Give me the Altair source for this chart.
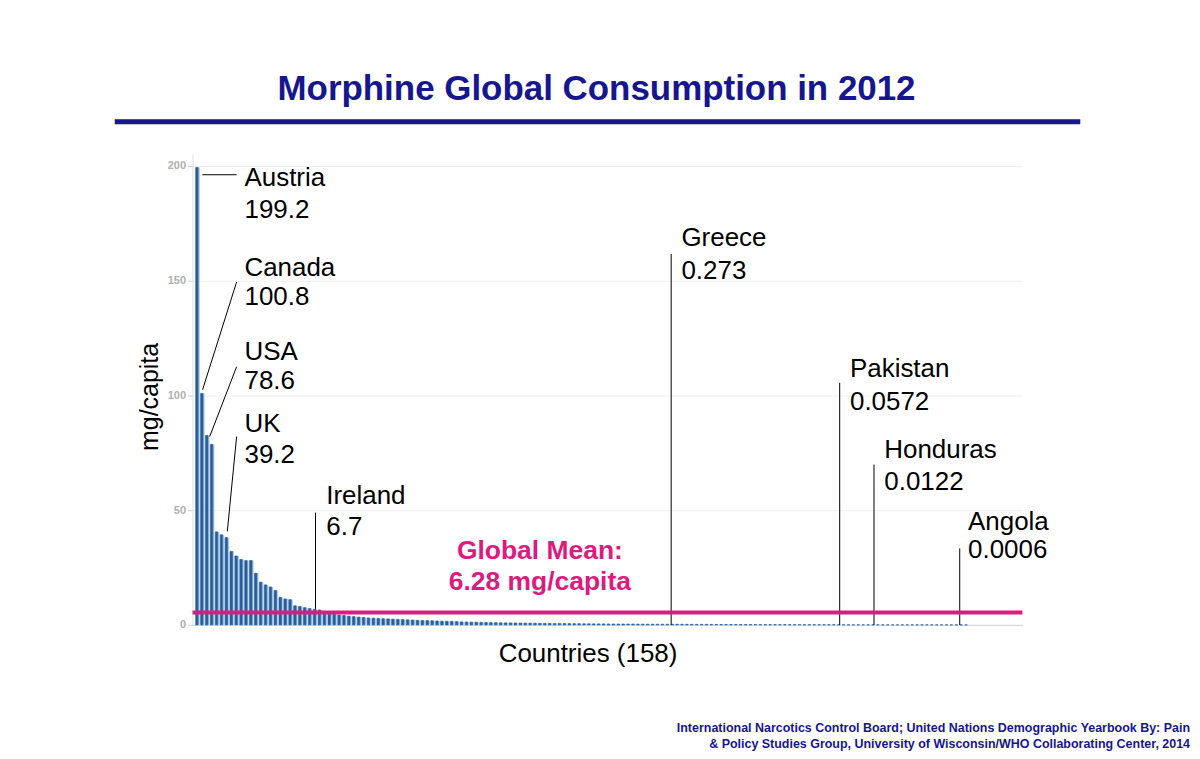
import altair as alt
import pandas as pd

# ---- data -------------------------------------------------------------
consumption = [
    199.2, 100.8, 82.5, 78.6, 40.5, 39.2, 38.0, 32.0, 30.0, 28.5,
    28.0, 28.0, 22.5, 18.6, 17.4, 16.5, 15.0, 12.0, 11.3, 11.0,
    8.3, 8.0, 7.5, 7.1, 6.7, 6.5, 5.3, 4.9, 4.6, 4.3,
    4.1, 3.8, 3.6, 3.4, 3.2, 3.0, 2.9, 2.8, 2.7, 2.6,
    2.5, 2.4, 2.3, 2.2, 2.1, 2.0, 1.9, 1.85, 1.8, 1.7,
    1.6, 1.55, 1.5, 1.4, 1.3, 1.25, 1.2, 1.15, 1.1, 1.05,
    1.0, 0.95, 0.9, 0.88, 0.85, 0.82, 0.8, 0.77, 0.74, 0.71,
    0.68, 0.65, 0.62, 0.6, 0.58, 0.56, 0.54, 0.52, 0.5, 0.48,
    0.46, 0.44, 0.42, 0.41, 0.4, 0.38, 0.37, 0.36, 0.35, 0.34,
    0.32, 0.31, 0.3, 0.29, 0.285, 0.28, 0.273, 0.265, 0.255, 0.245,
    0.24, 0.23, 0.22, 0.21, 0.2, 0.19, 0.18, 0.175, 0.17, 0.16,
    0.15, 0.145, 0.14, 0.13, 0.125, 0.12, 0.11, 0.105, 0.1, 0.095,
    0.09, 0.085, 0.08, 0.078, 0.075, 0.07, 0.067, 0.064, 0.061, 0.059,
    0.0572, 0.05, 0.042, 0.035, 0.028, 0.022, 0.017, 0.0122, 0.011, 0.0098,
    0.0088, 0.0079, 0.007, 0.0062, 0.0055, 0.0048, 0.0042, 0.0037, 0.0032, 0.0028,
    0.0024, 0.002, 0.0017, 0.0014, 0.0011, 0.0006, 0.0004, 0.0002,
]
rank = list(range(1, len(consumption) + 1))

global_mean_label = ["Global Mean:", "6.28 mg/capita"]
global_mean_drawn = 5.4  # height at which the reference draws the mean line

ann_names = ["Austria", "Canada", "USA", "UK", "Ireland", "Greece", "Pakistan", "Honduras", "Angola"]
ann_values = ["199.2", "100.8", "78.6", "39.2", "6.7", "0.273", "0.0572", "0.0122", "0.0006"]
# leader-line ends (rank units, mg/capita)
lead_x1 = [1.4, 1.45, 2.9, 6.5, 24.5, 97.1, 131.5, 138.5, 156.0]
lead_y1 = [196, 102.4, 82.0, 40.7, 6.7, 0, 0, 0, 0]
lead_x2 = [8.4, 8.4, 8.4, 8.4, 24.5, 97.1, 131.5, 138.5, 156.0]
lead_y2 = [196, 149.3, 112.4, 82.0, 48.9, 161.5, 105.4, 69.8, 33.3]
# label anchors
lab_x = [10.0, 10.0, 10.0, 10.0, 26.7, 99.2, 133.6, 140.6, 157.7]
lab_name_y = [194.6, 155.4, 118.9, 87.6, 55.9, 168.5, 111.5, 76.3, 45.0]
lab_value_y = [180.7, 142.8, 106.3, 74.1, 42.4, 154.1, 97.2, 62.0, 32.4]

mean_label_x = 70.3
mean_label_y = [32.0, 18.5]

title_text = "Morphine Global Consumption in 2012"
source_line1 = "International Narcotics Control Board; United Nations Demographic Yearbook By: Pain"
source_line2 = "& Policy Studies Group, University of Wisconsin/WHO Collaborating Center,  2014"

# ---- tables -----------------------------------------------------------
bars = pd.DataFrame({"i": rank, "v": consumption})
leads = pd.DataFrame({"x1": lead_x1, "y1": lead_y1, "x2": lead_x2, "y2": lead_y2})
labels = pd.DataFrame({
    "x": lab_x + lab_x,
    "y": lab_name_y + lab_value_y,
    "t": ann_names + ann_values,
})
mean_df = pd.DataFrame({"m": [global_mean_drawn]})
mean_lab = pd.DataFrame({"x": [mean_label_x] * 2, "y": mean_label_y, "t": global_mean_label})

FONT = "Liberation Sans"
NAVY = "#16168f"
PINK = "#de1a80"

xscale = alt.Scale(domain=[-0.6, 168.8], nice=False, zero=False)
yscale = alt.Scale(domain=[0, 205], nice=False)

xaxis = alt.Axis(labels=False, ticks=False, grid=False, domainColor="#d4d4d4",
                 title="Countries (158)", titleFontSize=26, titleFontWeight="normal",
                 titleFont=FONT, titleColor="#000000", titlePadding=16, titleX=396)
yaxis = alt.Axis(values=[0, 50, 100, 150, 200], labelFontSize=11, labelFontWeight="bold",
                 labelColor="#b0b0b0", labelFont=FONT, tickColor="#cfcfcf", tickSize=5,
                 domainColor="#e2e2e2", gridColor="#efefef",
                 title="mg/capita", titleFontSize=25, titleFontWeight="normal", titleFont=FONT,
                 titleColor="#000000", titleX=-43, titleY=243, titleAngle=270,
                 titleAlign="center", titleBaseline="middle")

light = alt.Chart(bars).transform_calculate(a="datum.i - 0.45", b="datum.i - 0.12").mark_rect(
    color="#b8cde5"
).encode(
    x=alt.X("a:Q", scale=xscale, axis=xaxis),
    x2="b:Q",
    y=alt.Y("v:Q", scale=yscale, axis=yaxis),
    y2=alt.datum(0),
)

dark = alt.Chart(bars).transform_calculate(a="datum.i - 0.95", b="datum.i - 0.45").mark_rect(
    color="#27609e", stroke="#27609e", strokeWidth=0.7
).encode(
    x="a:Q",
    x2="b:Q",
    y="v:Q",
    y2=alt.datum(0),
)

mean_rule = alt.Chart(mean_df).mark_rule(color=PINK, strokeWidth=4).encode(y="m:Q")

lead_rules = alt.Chart(leads).mark_rule(color="#000000", strokeWidth=1).encode(
    x="x1:Q", y="y1:Q", x2="x2:Q", y2="y2:Q"
)

lab_text = alt.Chart(labels).mark_text(
    align="left", baseline="middle", fontSize=26, font=FONT, color="#000000"
).encode(x="x:Q", y="y:Q", text="t:N")

mean_text = alt.Chart(mean_lab).mark_text(
    align="center", baseline="middle", fontSize=26.5, font=FONT, fontWeight="bold", color=PINK
).encode(x="x:Q", y="y:Q", text="t:N")

title_df = pd.DataFrame({"t": [title_text]})
title_mark = alt.Chart(title_df).mark_text(
    align="center", baseline="middle", fontSize=35, font=FONT, fontWeight="bold", color=NAVY
).encode(x=alt.value(405), y=alt.value(-65), text="t:N")

title_rule = alt.Chart(title_df).mark_rule(color=NAVY, strokeWidth=5).encode(
    x=alt.value(-78), x2=alt.value(890), y=alt.value(-32.5)
)

src1 = alt.Chart(pd.DataFrame({"t": [source_line1]})).mark_text(
    align="right", baseline="middle", fontSize=12.5, fontWeight="bold", font=FONT, color=NAVY
).encode(x=alt.value(1000), y=alt.value(575.5), text="t:N")
src2 = alt.Chart(pd.DataFrame({"t": [source_line2]})).mark_text(
    align="right", baseline="middle", fontSize=12.5, fontWeight="bold", font=FONT, color=NAVY
).encode(x=alt.value(1000), y=alt.value(591.5), text="t:N")

chart = alt.layer(
    light, dark, lead_rules, mean_rule, lab_text, mean_text, title_mark, title_rule, src1, src2
).properties(
    width=832, height=472,
    autosize=alt.AutoSizeParams(type="none"),
    padding={"left": 185, "top": 145.5, "right": 170, "bottom": 125},
    background="#ffffff",
).configure_view(strokeWidth=0)

chart.save("out.html", embed_options={"renderer": "svg", "actions": False})
